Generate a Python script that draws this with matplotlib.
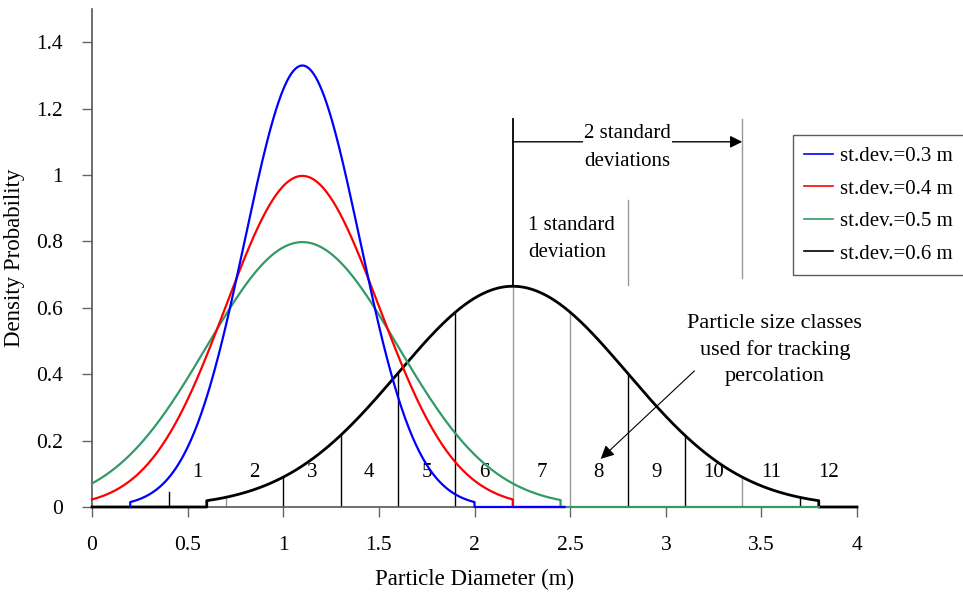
import numpy as np
import matplotlib
matplotlib.use("Agg")
import matplotlib.pyplot as plt

plt.rcParams['font.family'] = ['Liberation Serif', 'DejaVu Serif']

# Distributions of particle diameter (m): mean, standard deviation, truncation range
labels = ["st.dev.=0.3 m", "st.dev.=0.4 m", "st.dev.=0.5 m", "st.dev.=0.6 m"]
means = [1.1, 1.1, 1.1, 2.2]
sdevs = [0.3, 0.4, 0.5, 0.6]
lower = [0.2, 0.0, 0.0, 0.6]
upper = [2.0, 2.2, 2.45, 3.8]
zero_start = [0.2, 0.0, 0.0, 0.0]   # flat part drawn at zero
zero_end = [2.47, 2.47, 3.8, 4.0]
colors = ["#0000ff", "#ff0000", "#339966", "#000000"]
widths = [1.6, 1.6, 1.6, 2.0]

# Particle size classes used for tracking percolation
class_edges = [0.4, 0.7, 1.0, 1.3, 1.6, 1.9, 2.2, 2.5, 2.8, 3.1, 3.4, 3.7]
edge_colors = ["#000000", "#999999", "#000000", "#000000", "#000000", "#000000",
               "#999999", "#999999", "#000000", "#000000", "#999999", "#000000"]
class_ids = ["1", "2", "3", "4", "5", "6", "7", "8", "9", "10", "11", "12"]
class_pos = [0.55, 0.85, 1.15, 1.45, 1.75, 2.05, 2.35, 2.65, 2.95, 3.25, 3.55, 3.85]


def pdf(x, m, s):
    return np.exp(-0.5 * ((x - m) / s) ** 2) / (s * np.sqrt(2 * np.pi))


fig = plt.figure(figsize=(9.63, 5.95), dpi=100)
ax = fig.add_axes([92 / 963, 1 - 507 / 595, (857 - 92) / 963, (507 - 9) / 595])

# draw black first so the lighter curves sit on top of it along the baseline
order = [3, 2, 1, 0]
handles = {}
for i in order:
    m, s = means[i], sdevs[i]
    xc = np.linspace(lower[i], upper[i], 400)
    yc = pdf(xc, m, s)
    if lower[i] > 0:
        xs, ys = [zero_start[i], lower[i]], [0.0, 0.0]
    else:
        xs, ys = [], []
    x = np.concatenate([xs, xc, [upper[i], zero_end[i]]])
    y = np.concatenate([ys, yc, [0.0, 0.0]])
    ln, = ax.plot(x, y, color=colors[i], lw=widths[i], zorder=3 + (3 - i) * 0.1,
                  solid_joinstyle='round', clip_on=False)
    handles[i] = ln

# class boundary lines from the baseline up to the st.dev.=0.6 curve
for e, c in zip(class_edges, edge_colors):
    top = pdf(e, means[3], sdevs[3]) if e >= lower[3] else 0.045
    ax.plot([e, e], [0, top], color=c, lw=1.0, zorder=2)

for p, t in zip(class_pos, class_ids):
    ax.text(p, 0.105, t, ha='center', va='center', fontsize=15)

# standard deviation brackets
peak = pdf(2.2, 2.2, 0.6)
ax.plot([2.2, 2.2], [peak, 1.17], color='black', lw=1.3, zorder=2)
ax.plot([2.8, 2.8], [0.67, 0.925], color='#999999', lw=1.0, zorder=2)
ax.plot([3.4, 3.4], [0.69, 1.17], color='#999999', lw=1.0, zorder=2)
ax.annotate("", xy=(3.4, 1.10), xytext=(2.2, 1.10),
            arrowprops=dict(arrowstyle='-|>', color='#888888', lw=1.0,
                            mutation_scale=18, shrinkA=0, shrinkB=0,
                            fc='black', ec='black'))
ax.text(2.8, 1.083, "2 standard\ndeviations", ha='center', va='center',
        fontsize=15, linespacing=1.6,
        bbox=dict(fc='white', ec='none', pad=1.0))
ax.text(2.28, 0.807, "1 standard\ndeviation", ha='left', va='center',
        fontsize=15, linespacing=1.6)

ax.text(3.57, 0.473, "Particle size classes\nused for tracking\npercolation",
        ha='center', va='center', fontsize=16, linespacing=1.5)
ax.annotate("", xy=(2.66, 0.145), xytext=(3.15, 0.41),
            arrowprops=dict(arrowstyle='-|>', color='#777777', lw=0.8,
                            mutation_scale=20, shrinkA=0, shrinkB=0,
                            fc='black', ec='black'))

ax.set_xlim(0, 4)
ax.set_ylim(0, 1.5)
ax.set_xticks(np.arange(0, 4.01, 0.5))
ax.set_xticklabels(["0", "0.5", "1", "1.5", "2", "2.5", "3", "3.5", "4"])
ax.set_yticks(np.arange(0, 1.41, 0.2))
ax.set_yticklabels(["0", "0.2", "0.4", "0.6", "0.8", "1", "1.2", "1.4"])
ax.tick_params(axis='both', direction='out', length=7, width=1.0,
               color='#666666', labelsize=15.5)
ax.tick_params(axis='x', pad=14)
ax.tick_params(axis='y', pad=14)
for side in ('top', 'right'):
    ax.spines[side].set_visible(False)
for side in ('left', 'bottom'):
    ax.spines[side].set_color('#555555')
    ax.spines[side].set_linewidth(1.2)

ax.set_xlabel("Particle Diameter (m)", fontsize=16.5, labelpad=10)
ax.set_ylabel("Density Probability", fontsize=16.5, labelpad=8)

leg = fig.legend([handles[i] for i in range(4)], labels,
                 loc='upper left', bbox_to_anchor=(793 / 963, 1 - 135 / 595),
                 fontsize=15, frameon=True, fancybox=False, handlelength=1.35,
                 handletextpad=0.35, borderpad=0.55, labelspacing=0.62,
                 borderaxespad=0)
leg.get_frame().set_edgecolor('#333333')
leg.get_frame().set_linewidth(1.0)
for h in leg.legend_handles:
    h.set_linewidth(1.2)

fig.savefig("out.png", dpi=100)
